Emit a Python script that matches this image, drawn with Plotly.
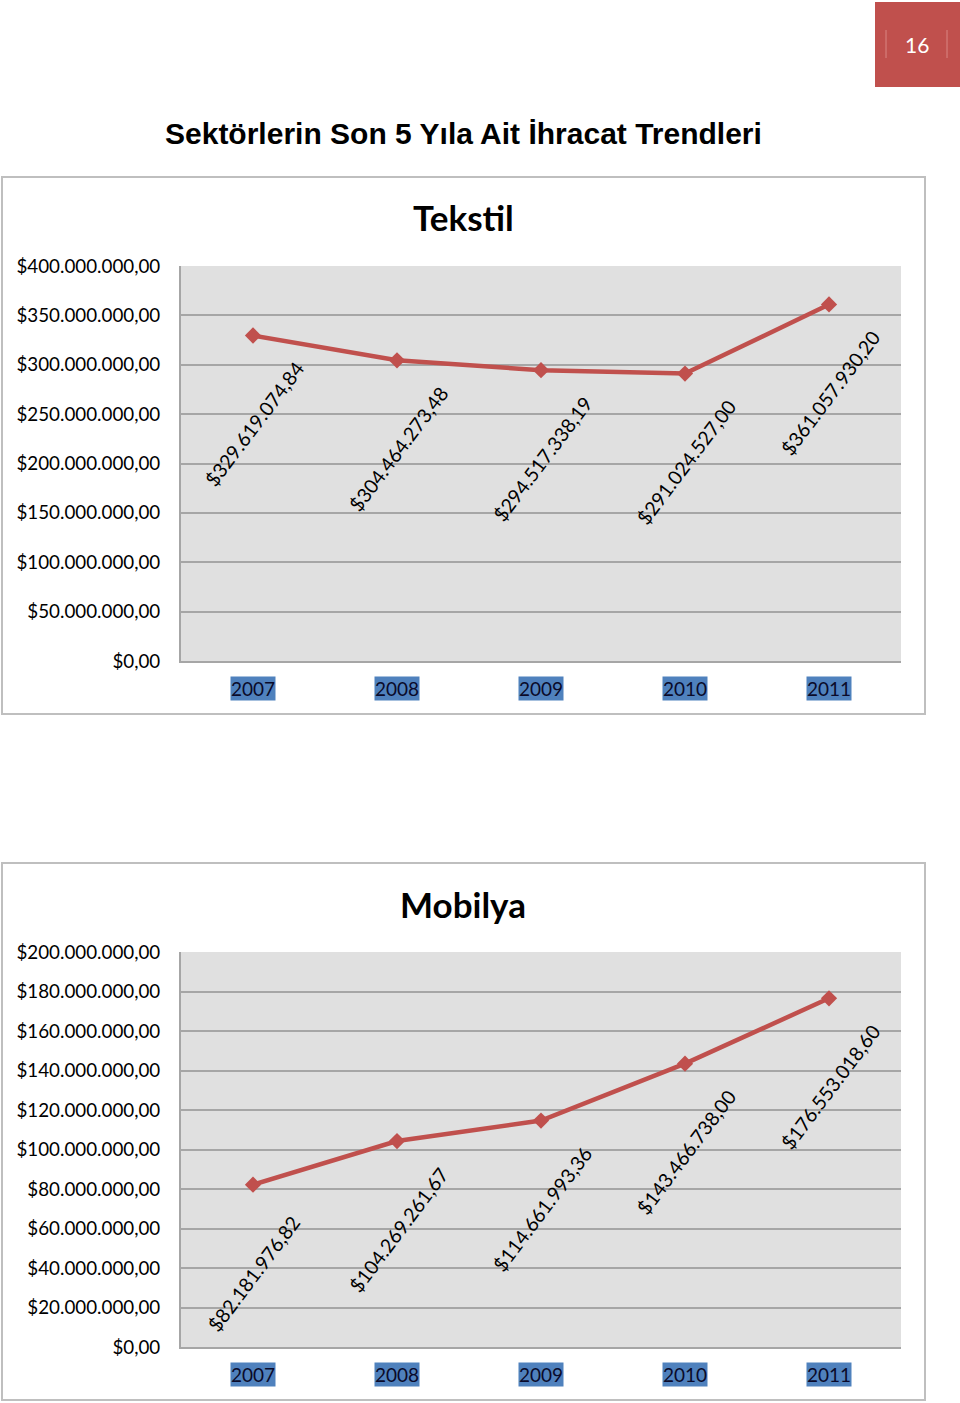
import plotly.graph_objects as go

W, H = 960, 1403

years = ["2007", "2008", "2009", "2010", "2011"]
tekstil = [329619074.84, 304464273.48, 294517338.19, 291024527.00, 361057930.20]
mobilya = [82181976.82, 104269261.67, 114661993.36, 143466738.00, 176553018.60]
tekstil_labels = ["$329.619.074,84", "$304.464.273,48", "$294.517.338,19", "$291.024.527,00", "$361.057.930,20"]
mobilya_labels = ["$82.181.976,82", "$104.269.261,67", "$114.661.993,36", "$143.466.738,00", "$176.553.018,60"]
tekstil_ticks = [0, 50e6, 100e6, 150e6, 200e6, 250e6, 300e6, 350e6, 400e6]
mobilya_ticks = [0, 20e6, 40e6, 60e6, 80e6, 100e6, 120e6, 140e6, 160e6, 180e6, 200e6]

main_title = "Sektörlerin Son 5 Yıla Ait İhracat Trendleri"
chart_titles = ["Tekstil", "Mobilya"]
page_number = "16"

RED = "#C0504D"
GRID = "#A6A6A6"
FONT = "Lato"


def money(v):
    s = f"{int(round(v)):,}".replace(",", ".")
    return f"${s},00"


def py(p):
    return 1 - p / H


fig = go.Figure()
x_idx = list(range(len(years)))

fig.add_trace(go.Scatter(x=x_idx, y=tekstil, mode="lines+markers", xaxis="x", yaxis="y",
                         line=dict(color=RED, width=4.5),
                         marker=dict(symbol="diamond", size=12.5, color=RED), showlegend=False))
fig.add_trace(go.Scatter(x=x_idx, y=mobilya, mode="lines+markers", xaxis="x2", yaxis="y2",
                         line=dict(color=RED, width=4.5),
                         marker=dict(symbol="diamond", size=12.5, color=RED), showlegend=False))

xdom = [181 / W, 901 / W]
common_x = dict(range=[-0.5, 4.5], showgrid=False, showticklabels=False, zeroline=False,
                showline=True, linecolor=GRID, linewidth=2, fixedrange=True, automargin=False)
common_y = dict(showgrid=True, gridcolor=GRID, gridwidth=1.5, zeroline=False,
                showline=True, linecolor=GRID, linewidth=2, ticks="", automargin=False,
                ticklabelstandoff=15, tickfont=dict(family=FONT, size=18.8, color="#000"))

fig.update_layout(
    width=W, height=H, margin=dict(l=0, r=0, t=0, b=0, pad=0, autoexpand=False),
    paper_bgcolor="white", plot_bgcolor="#E0E0E0",
    xaxis=dict(domain=xdom, anchor="y", **common_x),
    yaxis=dict(domain=[py(661), py(266)], anchor="x", range=[0, 400e6],
               tickvals=tekstil_ticks, ticktext=[money(v) for v in tekstil_ticks], **common_y),
    xaxis2=dict(domain=xdom, anchor="y2", **common_x),
    yaxis2=dict(domain=[py(1347), py(952)], anchor="x2", range=[0, 200e6],
                tickvals=mobilya_ticks, ticktext=[money(v) for v in mobilya_ticks], **common_y),
)

shapes = []
for (t, b) in [(177, 714), (863, 1400)]:
    shapes.append(dict(type="rect", xref="paper", yref="paper", x0=2 / W, x1=925 / W,
                       y0=py(b), y1=py(t), line=dict(color="#BFBFBF", width=2), layer="below"))
shapes.append(dict(type="rect", xref="paper", yref="paper", x0=875 / W, x1=1, y0=py(87), y1=py(2),
                   fillcolor=RED, line=dict(width=0)))
for xp in (886, 947):
    shapes.append(dict(type="line", xref="paper", yref="paper", x0=xp / W, x1=xp / W,
                       y0=py(58), y1=py(30), line=dict(color="#D98583", width=1)))
fig.update_layout(shapes=shapes)

ann = []
ann.append(dict(text=f"<b>{main_title}</b>", xref="paper", yref="paper", x=463 / W, y=py(133),
                showarrow=False, font=dict(family="Liberation Sans", size=30, color="#000"),
                xanchor="center", yanchor="middle"))
ann.append(dict(text=page_number, xref="paper", yref="paper", x=917 / W, y=py(44), showarrow=False,
                font=dict(family=FONT, size=21, color="white"), xanchor="center", yanchor="middle"))
for title, ty in zip(chart_titles, (217, 904)):
    ann.append(dict(text=f"<b>{title}</b>", xref="paper", yref="paper", x=463 / W, y=py(ty),
                    showarrow=False, font=dict(family=FONT, size=35, color="#000"),
                    xanchor="center", yanchor="middle"))

for xr, yr, vals, labs in [("x", "y", tekstil, tekstil_labels), ("x2", "y2", mobilya, mobilya_labels)]:
    for i, (v, lab) in enumerate(zip(vals, labs)):
        ann.append(dict(text=lab, xref=xr, yref=yr, x=i, y=v, showarrow=False, textangle=-53,
                        yshift=-89, xshift=1, font=dict(family=FONT, size=19.5, color="#000"),
                        xanchor="center", yanchor="middle"))
    for i, yrs in enumerate(years):
        ann.append(dict(text=yrs, xref=xr, yref=f"{yr} domain", x=i, y=0, yshift=-27, showarrow=False,
                        bgcolor="#4F81BD", borderpad=0,
                        font=dict(family=FONT, size=19, color="#0A0A2A"),
                        xanchor="center", yanchor="middle"))
fig.update_layout(annotations=ann)

fig.write_html("out.html")
